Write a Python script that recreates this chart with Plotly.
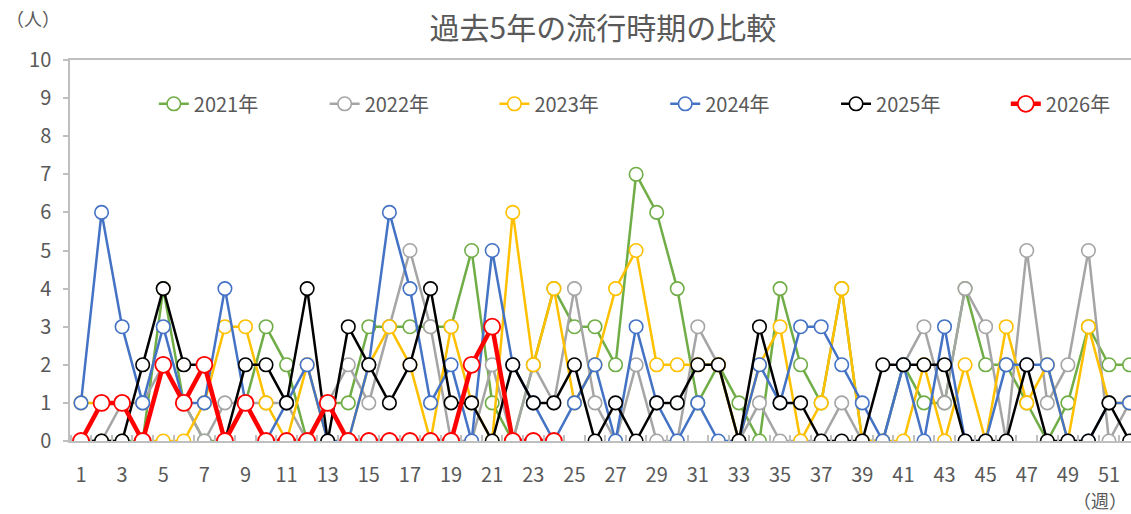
import plotly.graph_objects as go

# Weekly case counts (weeks 1-52) for each season
weeks = list(range(1, 53))
y2021 = [0, 0, 0, 0, 4, 1, 0, 0, 1, 3, 2, 0, 1, 1, 3, 3, 3, 3, 3, 5,
         1, 0, 2, 4, 3, 3, 2, 7, 6, 4, 1, 2, 1, 0, 4, 2, 1, 4, 0, 0,
         2, 1, 1, 4, 2, 2, 1, 0, 1, 3, 2, 2]
y2022 = [0, 0, 1, 1, 2, 1, 0, 1, 1, 1, 1, 0, 1, 2, 1, 3, 5, 3, 0, 0,
         2, 0, 2, 1, 4, 1, 0, 2, 0, 0, 3, 2, 0, 1, 0, 0, 0, 1, 0, 0,
         2, 3, 1, 4, 3, 0, 5, 1, 2, 5, 0, 1]
y2023 = [1, 1, 1, 0, 0, 0, 1, 3, 3, 1, 0, 2, 0, 0, 2, 3, 2, 0, 3, 1,
         0, 6, 2, 4, 1, 2, 4, 5, 2, 2, 2, 2, 0, 2, 3, 0, 1, 4, 0, 0,
         0, 2, 0, 2, 0, 3, 1, 2, 0, 3, 1, 1]
y2024 = [1, 6, 3, 1, 3, 1, 1, 4, 1, 0, 1, 2, 0, 0, 2, 6, 4, 1, 2, 0,
         5, 2, 1, 0, 1, 2, 0, 3, 1, 0, 1, 0, 0, 2, 1, 3, 3, 2, 1, 0,
         2, 0, 3, 0, 0, 2, 2, 2, 0, 0, 1, 1]
y2025 = [0, 0, 0, 2, 4, 2, 2, 0, 2, 2, 1, 4, 0, 3, 2, 1, 2, 4, 1, 1,
         0, 2, 1, 1, 2, 0, 1, 0, 1, 1, 2, 2, 0, 3, 1, 1, 0, 0, 0, 2,
         2, 2, 2, 0, 0, 0, 2, 0, 0, 0, 1, 0]
y2026 = [0, 1, 1, 0, 2, 1, 2, 0, 1, 0, 0, 0, 1, 0, 0, 0, 0, 0, 0, 2,
         3, 0, 0, 0]

series_names = ["2021年", "2022年", "2023年", "2024年", "2025年", "2026年"]
series_values = [y2021, y2022, y2023, y2024, y2025, y2026]
colors = ["#70AD47", "#A5A5A5", "#FFC000", "#4472C4", "#000000", "#FF0000"]

x_tick_labels = [str(w) for w in range(1, 52, 2)]
y_ticks = list(range(0, 11))

FONT = "Noto Sans CJK JP"
TEXT = "#595959"
AXIS = "#BFBFBF"

# one single-entry legend per season, laid out in a row inside the plot
legend_ids = ["legend", "legend2", "legend3", "legend4", "legend5", "legend6"]
legend_x = [0.079, 0.240, 0.400, 0.561, 0.722, 0.882]

fig = go.Figure()
for name, vals, col, lid in zip(series_names, series_values, colors, legend_ids):
    is_current = name == "2026年"
    fig.add_trace(go.Scatter(
        x=weeks[:len(vals)], y=vals, name=name, mode="lines+markers", legend=lid,
        line=dict(color=col, width=4.5 if is_current else 2.5),
        marker=dict(symbol="circle", size=16 if is_current else 13.5,
                    color="white", line=dict(color=col, width=1.8 if is_current else 1.6)),
    ))

legend_style = dict(orientation="h", xanchor="left", y=0.885, yanchor="middle",
                    bgcolor="rgba(0,0,0,0)", font=dict(size=20, color=TEXT, family=FONT),
                    itemwidth=30)
fig.update_layout(**{lid: dict(x=lx, **legend_style) for lid, lx in zip(legend_ids, legend_x)})

fig.update_layout(
    width=1131, height=514,
    margin=dict(l=70, r=0, t=60, b=73),
    paper_bgcolor="white", plot_bgcolor="white",
    font=dict(family=FONT, color=TEXT, size=20),
    title=dict(text="過去5年の流行時期の比較", x=0.533, xref="container",
               y=1 - 28 / 514, yref="container", yanchor="middle", xanchor="center",
               font=dict(size=30, color=TEXT, family=FONT)),
    showlegend=True,
)

fig.update_xaxes(
    range=[0.465, 52.07], showgrid=False, zeroline=False,
    showline=True, linecolor=AXIS, linewidth=1.5, mirror=True,
    tickmode="array", tickvals=list(range(1, 52, 2)), ticktext=x_tick_labels,
    ticks="", ticklabelstandoff=15,
    tickfont=dict(size=20, color=TEXT, family=FONT),
    minor=dict(tickmode="array", tickvals=[w + 0.5 for w in range(0, 53)],
               ticks="inside", ticklen=6, tickcolor=AXIS, tickwidth=1.5, showgrid=False),
)
fig.update_yaxes(
    range=[0, 10], showgrid=False, zeroline=False,
    showline=True, linecolor=AXIS, linewidth=1.5,
    tickmode="array", tickvals=y_ticks, ticktext=[str(v) for v in y_ticks],
    ticks="outside", ticklen=5, tickcolor=AXIS, tickwidth=1.5, ticklabelstandoff=8,
    tickfont=dict(size=20, color=TEXT, family=FONT),
)

fig.add_annotation(text="（人）", x=-0.035, y=1.11, xref="paper", yref="paper",
                   showarrow=False, xanchor="center", yanchor="middle",
                   font=dict(size=18, color=TEXT, family=FONT))
fig.add_annotation(text="（週）", x=0.971, y=-0.155, xref="paper", yref="paper",
                   showarrow=False, xanchor="center", yanchor="middle",
                   font=dict(size=18, color=TEXT, family=FONT))

fig.write_html("out.html")
